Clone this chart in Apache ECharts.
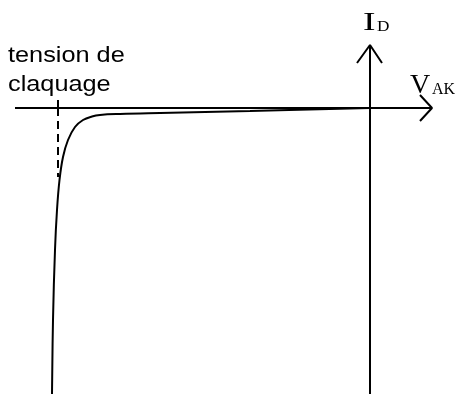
<!DOCTYPE html>
<html>
<head>
<meta charset="utf-8">
<script src="https://cdn.jsdelivr.net/npm/echarts@6/dist/echarts.min.js"></script>
<style>
  html, body { margin: 0; padding: 0; background: #fff; }
  #chart { width: 459px; height: 394px; }
</style>
</head>
<body>
<div id="chart"></div>
<script>
// reverse characteristic of a diode (arbitrary units, origin = (0,0))
const curveV = [-318, -317, -315, -313, -310.5, -307, -302, -295, -287, -278, -270, -250, -210, -120, 0];
const curveI = [-286, -212, -142, -102, -72, -49, -32, -19, -12, -8.5, -7, -6, -5, -3, 0];

// breakdown voltage marker
const breakdownV = -312;
const breakdownMarkTop = 8;
const breakdownDashEnd = -69;

// axes drawn as plain lines with open arrows
const axisX = [[-355, 0], [62, 0]];
const arrowX = [[50, 13], [62, 0], [50, -13]];
const axisY = [[0, -290], [0, 63]];
const arrowY = [[-13, 45], [0, 63], [12, 45]];

const labelBreak = ["tension de", "claquage"];

const chart = echarts.init(document.getElementById("chart"));

const plain = (data, width, type) => ({
  type: "line",
  data: data,
  symbol: "none",
  silent: true,
  lineStyle: { color: "#000", width: width, type: type || "solid" },
});

//text helper, size in px
const txt = (text, x, y, size, family, opts) =>
  Object.assign(
    {
      type: "text",
      x: x,
      y: y,
      style: {
        text: text,
        fontSize: size,
        fontFamily: family,
        fill: "#000",
        textVerticalAlign: "middle",
      },
    },
    opts || {}
  );

chart.setOption({
  animation: false,
  grid: { left: 0, right: 0, top: 0, bottom: 0 },
  xAxis: { type: "value", min: -370, max: 89, show: false },
  yAxis: { type: "value", min: -286, max: 108, show: false },
  series: [
    plain(axisX, 2),
    plain(arrowX, 2),
    plain(axisY, 2),
    plain(arrowY, 2),
    plain([[breakdownV, breakdownMarkTop], [breakdownV, 0]], 2),
    plain([[breakdownV, 0], [breakdownV, breakdownDashEnd]], 2, [8, 5]),
    Object.assign(plain(curveV.map((v, i) => [v, curveI[i]]), 2), { smooth: 0.4 }),
  ],
  graphic: [
    txt(labelBreak[0], 8, 55.5, 22, "Liberation Sans", { scaleX: 1.15 }),
    txt(labelBreak[1], 8, 84.5, 22, "Liberation Sans", { scaleX: 1.15 }),
    txt("I", 363, 23, 25, "Liberation Serif", { scaleX: 1.5 }),
    txt("D", 377, 27.5, 15, "Liberation Serif", { scaleX: 1.15 }),
    txt("V", 410, 85.5, 28, "Liberation Serif"),
    txt("AK", 432, 89.5, 16, "Liberation Serif"),
  ],
});
</script>
</body>
</html>
